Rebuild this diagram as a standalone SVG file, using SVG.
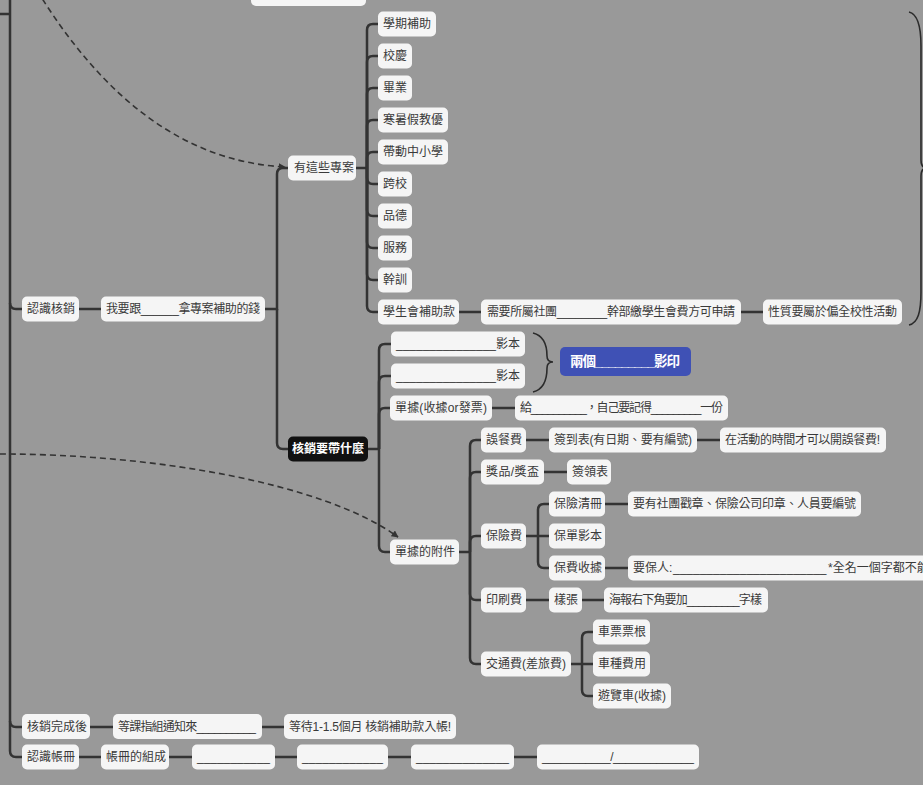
<svg xmlns="http://www.w3.org/2000/svg" width="923" height="785" viewBox="0 0 923 785">
  <defs>
    <marker id="arrow" viewBox="0 0 10 10" refX="9" refY="5" markerWidth="7" markerHeight="7" orient="auto" markerUnits="userSpaceOnUse">
      <path d="M0,0 L10,5 L0,10 z" fill="#333"/>
    </marker>
    <style>
      .bg { fill: #999999; }
      .node rect { fill: #f5f5f5; }
      .node text { font-family: "Liberation Sans", "Noto Sans CJK TC", sans-serif; font-size: 12px; fill: #3a3a3a; dominant-baseline: central; }
      .dark rect { fill: #111111; }
      .dark text { fill: #ffffff; font-weight: bold; }
      .blue rect { fill: #3f51b5; }
      .blue text { fill: #ffffff; font-weight: bold; font-size: 13.5px; }
      .link { fill: none; stroke: #333; stroke-width: 2.5; }
      .brace { fill: none; stroke: #2b2b2b; stroke-width: 1.6; }
      .dash { fill: none; stroke: #333; stroke-width: 1.6; stroke-dasharray: 6 4; }
    </style>
  </defs>

  <rect class="bg" x="0" y="0" width="923" height="785"/>

  <!-- connectors -->
  <g id="connectors">
    <!-- trunk -->
    <path class="link" d="M0,14 H10 M10,-5 V751 Q10,757 16,757 H22"/>
    <path class="link" d="M10,303 Q10,309 16,309 H22"/>
    <path class="link" d="M10,721 Q10,727 16,727 H22"/>
    <path class="link" d="M79,309 H101"/>
    <!-- 我要跟 -> children -->
    <path class="link" d="M265,309 H277 V174 Q277,168 283,168 H288"/>
    <path class="link" d="M277,309 V443 Q277,449 283,449 H288"/>
    <!-- 有這些專案 -> projects -->
    <path class="link" d="M356,168 H367"/>
    <path class="link" d="M367,168 V30 Q367,24 373,24 H378"/>
    <path class="link" d="M367,168 V62 Q367,56 373,56 H378"/>
    <path class="link" d="M367,168 V94 Q367,88 373,88 H378"/>
    <path class="link" d="M367,168 V126 Q367,120 373,120 H378"/>
    <path class="link" d="M367,168 V158 Q367,152 373,152 H378"/>
    <path class="link" d="M367,168 V178 Q367,184 373,184 H378"/>
    <path class="link" d="M367,168 V210 Q367,216 373,216 H378"/>
    <path class="link" d="M367,168 V242 Q367,248 373,248 H378"/>
    <path class="link" d="M367,168 V274 Q367,280 373,280 H378"/>
    <path class="link" d="M367,168 V306 Q367,312 373,312 H378"/>
    <path class="link" d="M459,312 H481 M741,312 H763"/>
    <!-- 核銷要帶什麼 -> children -->
    <path class="link" d="M368,449 H379"/>
    <path class="link" d="M379,449 V350 Q379,344 385,344 H391"/>
    <path class="link" d="M379,449 V382 Q379,376 385,376 H391"/>
    <path class="link" d="M379,449 V414 Q379,408 385,408 H390"/>
    <path class="link" d="M379,449 V546 Q379,552 385,552 H390"/>
    <path class="link" d="M492,408 H515"/>
    <!-- 單據的附件 -> expense types -->
    <path class="link" d="M459,552 H470"/>
    <path class="link" d="M470,552 V446 Q470,440 476,440 H481"/>
    <path class="link" d="M470,552 V478 Q470,472 476,472 H481"/>
    <path class="link" d="M470,552 V542 Q470,536 476,536 H481"/>
    <path class="link" d="M470,552 V594 Q470,600 476,600 H481"/>
    <path class="link" d="M470,552 V658 Q470,664 476,664 H481"/>
    <path class="link" d="M526,440 H549 M697,440 H720"/>
    <path class="link" d="M544,472 H567"/>
    <path class="link" d="M526,536 H549 M538,536 V510 Q538,504 544,504 H549 M538,536 V562 Q538,568 544,568 H549"/>
    <path class="link" d="M605,504 H628 M605,568 H628"/>
    <path class="link" d="M526,600 H549 M582,600 H604"/>
    <path class="link" d="M571,664 H593 M582,664 V638 Q582,632 588,632 H593 M582,664 V690 Q582,696 588,696 H593"/>
    <!-- bottom rows -->
    <path class="link" d="M90,727 H113 M262,727 H284"/>
    <path class="link" d="M79,757 H101 M169,757 H192 M275,757 H297 M388,757 H411 M514,757 H537"/>

    <!-- braces -->
    <path class="brace" d="M533,333 C545,336 547,348 547,356 Q547,362 553,362 Q547,362 547,368 C547,378 545,389 533,392"/>
    <path class="brace" d="M909,12 C918,14 921,26 921,46 V160 Q921,168 927,168 Q921,168 921,176 V292 C921,312 918,323 909,325"/>

    <!-- dashed relationships -->
    <path class="dash" d="M32,-18 C105,105 190,162 285,167" marker-end="url(#arrow)"/>
    <path class="dash" d="M0,454 C150,454 322,482 398,537" marker-end="url(#arrow)"/>
  </g>

  <!-- nodes -->
  <g id="n-top" class="node"><rect x="251" y="-19" width="115" height="25" rx="5"/></g>

  <g id="n-renshi-hexiao" class="node"><rect x="22" y="296.5" width="57" height="25" rx="5"/><text x="27" y="309">認識核銷</text></g>
  <g id="n-woyaogen" class="node"><rect x="101" y="296.5" width="164" height="25" rx="5"/><text x="106" y="309" textLength="154" lengthAdjust="spacing">我要跟______拿專案補助的錢</text></g>
  <g id="n-youzhexie" class="node"><rect x="288" y="155.5" width="68" height="25" rx="5"/><text x="294" y="168">有這些專案</text></g>
  <g id="n-daishenme" class="node dark"><rect x="288" y="436.5" width="80" height="25" rx="5"/><text x="292" y="449">核銷要帶什麼</text></g>

  <g id="n-p1" class="node"><rect x="378" y="11.5" width="58" height="25" rx="5"/><text x="383" y="24">學期補助</text></g>
  <g id="n-p2" class="node"><rect x="378" y="43.5" width="34" height="25" rx="5"/><text x="383" y="56">校慶</text></g>
  <g id="n-p3" class="node"><rect x="378" y="75.5" width="34" height="25" rx="5"/><text x="383" y="88">畢業</text></g>
  <g id="n-p4" class="node"><rect x="378" y="107.5" width="70" height="25" rx="5"/><text x="383" y="120">寒暑假教優</text></g>
  <g id="n-p5" class="node"><rect x="378" y="139.5" width="70" height="25" rx="5"/><text x="383" y="152">帶動中小學</text></g>
  <g id="n-p6" class="node"><rect x="378" y="171.5" width="34" height="25" rx="5"/><text x="383" y="184">跨校</text></g>
  <g id="n-p7" class="node"><rect x="378" y="203.5" width="34" height="25" rx="5"/><text x="383" y="216">品德</text></g>
  <g id="n-p8" class="node"><rect x="378" y="235.5" width="34" height="25" rx="5"/><text x="383" y="248">服務</text></g>
  <g id="n-p9" class="node"><rect x="378" y="267.5" width="34" height="25" rx="5"/><text x="383" y="280">幹訓</text></g>
  <g id="n-p10" class="node"><rect x="378" y="299.5" width="81" height="25" rx="5"/><text x="383" y="312">學生會補助款</text></g>
  <g id="n-p10a" class="node"><rect x="481" y="299.5" width="260" height="25" rx="5"/><text x="487" y="312" textLength="248" lengthAdjust="spacing">需要所屬社團________幹部繳學生會費方可申請</text></g>
  <g id="n-p10b" class="node"><rect x="763" y="299.5" width="139" height="25" rx="5"/><text x="768" y="312" textLength="129" lengthAdjust="spacing">性質要屬於偏全校性活動</text></g>

  <g id="n-copy1" class="node"><rect x="391" y="331.5" width="134" height="25" rx="5"/><text x="396" y="344" textLength="124" lengthAdjust="spacing">_______________影本</text></g>
  <g id="n-copy2" class="node"><rect x="391" y="363.5" width="134" height="25" rx="5"/><text x="396" y="376" textLength="124" lengthAdjust="spacing">_______________影本</text></g>
  <g id="n-copies" class="node blue"><rect x="560" y="347" width="131" height="29" rx="5"/><text x="570" y="361.5" textLength="110" lengthAdjust="spacing">兩個_________影印</text></g>
  <g id="n-receipt" class="node"><rect x="390" y="395.5" width="102" height="25" rx="5"/><text x="395" y="408" textLength="92" lengthAdjust="spacing">單據(收據or發票)</text></g>
  <g id="n-receipt-a" class="node"><rect x="515" y="395.5" width="213" height="25" rx="5"/><text x="520" y="408" textLength="203" lengthAdjust="spacing">給__________，自己要記得_________一份</text></g>
  <g id="n-attach" class="node"><rect x="390" y="539.5" width="69" height="25" rx="5"/><text x="395" y="552">單據的附件</text></g>

  <g id="n-meal" class="node"><rect x="481" y="427.5" width="45" height="25" rx="5"/><text x="486" y="440">誤餐費</text></g>
  <g id="n-meal-a" class="node"><rect x="549" y="427.5" width="148" height="25" rx="5"/><text x="554" y="440" textLength="138" lengthAdjust="spacing">簽到表(有日期、要有編號)</text></g>
  <g id="n-meal-b" class="node"><rect x="720" y="427.5" width="166" height="25" rx="5"/><text x="725" y="440" textLength="155" lengthAdjust="spacing">在活動的時間才可以開誤餐費!</text></g>
  <g id="n-prize" class="node"><rect x="481" y="459.5" width="63" height="25" rx="5"/><text x="486" y="472" textLength="53" lengthAdjust="spacing">獎品/獎盃</text></g>
  <g id="n-prize-a" class="node"><rect x="567" y="459.5" width="44" height="25" rx="5"/><text x="572" y="472">簽領表</text></g>
  <g id="n-ins" class="node"><rect x="481" y="523.5" width="45" height="25" rx="5"/><text x="486" y="536">保險費</text></g>
  <g id="n-ins-1" class="node"><rect x="549" y="491.5" width="56" height="25" rx="5"/><text x="554" y="504">保險清冊</text></g>
  <g id="n-ins-1a" class="node"><rect x="628" y="491.5" width="233" height="25" rx="5"/><text x="633" y="504" textLength="223" lengthAdjust="spacing">要有社團戳章、保險公司印章、人員要編號</text></g>
  <g id="n-ins-2" class="node"><rect x="549" y="523.5" width="56" height="25" rx="5"/><text x="554" y="536">保單影本</text></g>
  <g id="n-ins-3" class="node"><rect x="549" y="555.5" width="56" height="25" rx="5"/><text x="554" y="568">保費收據</text></g>
  <g id="n-ins-3a" class="node"><rect x="628" y="555.5" width="330" height="25" rx="5"/><text y="568"><tspan x="633">要保人:</tspan><tspan x="673">_______________________</tspan><tspan x="828">*全名一個字都不能</tspan></text></g>
  <g id="n-print" class="node"><rect x="481" y="587.5" width="45" height="25" rx="5"/><text x="486" y="600">印刷費</text></g>
  <g id="n-print-a" class="node"><rect x="549" y="587.5" width="33" height="25" rx="5"/><text x="554" y="600">樣張</text></g>
  <g id="n-print-b" class="node"><rect x="604" y="587.5" width="164" height="25" rx="5"/><text x="609" y="600" textLength="153" lengthAdjust="spacing">海報右下角要加_________字樣</text></g>
  <g id="n-travel" class="node"><rect x="481" y="651.5" width="90" height="25" rx="5"/><text x="486" y="664" textLength="80" lengthAdjust="spacing">交通費(差旅費)</text></g>
  <g id="n-travel-1" class="node"><rect x="593" y="619.5" width="57" height="25" rx="5"/><text x="598" y="632">車票票根</text></g>
  <g id="n-travel-2" class="node"><rect x="593" y="651.5" width="57" height="25" rx="5"/><text x="598" y="664">車種費用</text></g>
  <g id="n-travel-3" class="node"><rect x="593" y="683.5" width="78" height="25" rx="5"/><text x="598" y="696" textLength="68" lengthAdjust="spacing">遊覽車(收據)</text></g>

  <g id="n-done" class="node"><rect x="22" y="714" width="68" height="25" rx="5"/><text x="27" y="726.5">核銷完成後</text></g>
  <g id="n-done-a" class="node"><rect x="113" y="714" width="149" height="25" rx="5"/><text x="118" y="726.5" textLength="138" lengthAdjust="spacing">等課指組通知來__________</text></g>
  <g id="n-done-b" class="node"><rect x="284" y="714" width="172" height="25" rx="5"/><text x="289" y="726.5" textLength="162" lengthAdjust="spacing">等待1-1.5個月 核銷補助款入帳!</text></g>

  <g id="n-book" class="node"><rect x="22" y="744.5" width="57" height="25" rx="5"/><text x="27" y="757">認識帳冊</text></g>
  <g id="n-book-a" class="node"><rect x="101" y="744.5" width="68" height="25" rx="5"/><text x="106" y="757">帳冊的組成</text></g>
  <g id="n-book-b" class="node"><rect x="192" y="744.5" width="83" height="25" rx="5"/><text x="197" y="757" textLength="73" lengthAdjust="spacing">___________</text></g>
  <g id="n-book-c" class="node"><rect x="297" y="744.5" width="91" height="25" rx="5"/><text x="302" y="757" textLength="81" lengthAdjust="spacing">____________</text></g>
  <g id="n-book-d" class="node"><rect x="411" y="744.5" width="103" height="25" rx="5"/><text x="416" y="757" textLength="93" lengthAdjust="spacing">______________</text></g>
  <g id="n-book-e" class="node"><rect x="537" y="744.5" width="162" height="25" rx="5"/><text x="542" y="757" textLength="152" lengthAdjust="spacing">___________/_____________</text></g>
</svg>
